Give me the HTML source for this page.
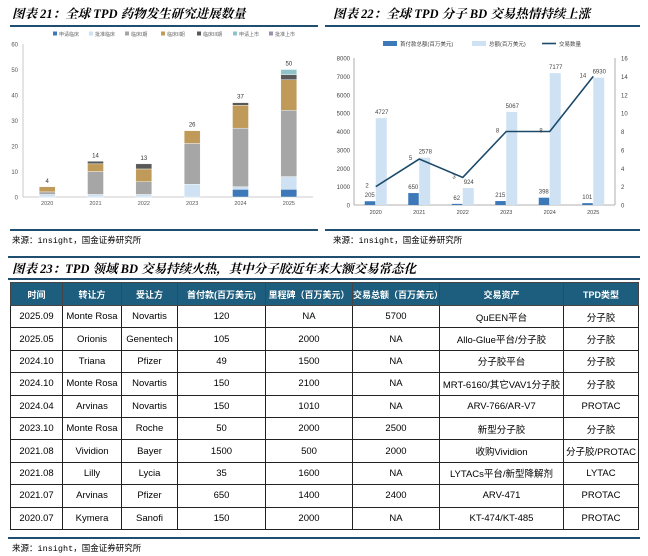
<!DOCTYPE html>
<html><head><meta charset="utf-8">
<style>
body{margin:0;width:648px;height:556px;background:#fff;position:relative;overflow:hidden;font-family:"Liberation Sans","Noto Sans CJK SC",sans-serif;}
.title{position:absolute;font-family:"Liberation Serif","Noto Serif CJK SC",serif;font-weight:bold;font-style:italic;font-size:12.5px;color:#000;white-space:nowrap;}
.hline{position:absolute;height:1.5px;background:#1f4e6e;}
.src{position:absolute;font-size:8.5px;font-family:"Liberation Mono","Noto Sans CJK SC",monospace;color:#000;}
svg text{font-family:"Liberation Sans","Noto Sans CJK SC",sans-serif;}
table{position:absolute;left:10px;top:282px;width:628px;border-collapse:collapse;font-size:9.5px;table-layout:fixed;}
td,th{border:1px solid #222;text-align:center;height:21.4px;padding:0;white-space:nowrap;overflow:hidden;}
th{background:#1d5d7e;color:#fff;font-weight:bold;height:22px;font-size:9px;border-color:#444;}
</style></head><body>
<div class="title" style="left:12px;top:4px;">图表 21：全球 TPD 药物发生研究进展数量</div>
<div class="hline" style="left:10px;top:25px;width:308px;"></div>
<div class="title" style="left:333px;top:4px;">图表 22：全球 TPD 分子 BD 交易热情持续上涨</div>
<div class="hline" style="left:325px;top:25px;width:315px;"></div>

<svg id="c21" width="320" height="225" style="position:absolute;left:0;top:0"></svg>
<svg id="c22" width="323" height="225" style="position:absolute;left:325px;top:0"></svg>

<div class="hline" style="left:10px;top:229px;width:308px;"></div>
<div class="src" style="left:12px;top:234px;">来源：insight，国金证券研究所</div>
<div class="hline" style="left:325px;top:229px;width:315px;"></div>
<div class="src" style="left:333px;top:234px;">来源：insight，国金证券研究所</div>

<div class="hline" style="left:8px;top:256px;width:632px;"></div>
<div class="title" style="left:12px;top:259px;">图表 23：TPD 领域 BD 交易持续火热，其中分子胶近年来大额交易常态化</div>
<div class="hline" style="left:8px;top:278px;width:632px;"></div>

<table>
<colgroup><col style="width:52px"><col style="width:59px"><col style="width:56px"><col style="width:88px"><col style="width:87px"><col style="width:87px"><col style="width:124px"><col style="width:75px"></colgroup>
<tr><th>时间</th><th>转让方</th><th>受让方</th><th>首付款(百万美元)</th><th>里程碑（百万美元）</th><th>交易总额（百万美元）</th><th>交易资产</th><th>TPD类型</th></tr>
<tr><td>2025.09</td><td>Monte Rosa</td><td>Novartis</td><td>120</td><td>NA</td><td>5700</td><td>QuEEN平台</td><td>分子胶</td></tr>
<tr><td>2025.05</td><td>Orionis</td><td>Genentech</td><td>105</td><td>2000</td><td>NA</td><td>Allo-Glue平台/分子胶</td><td>分子胶</td></tr>
<tr><td>2024.10</td><td>Triana</td><td>Pfizer</td><td>49</td><td>1500</td><td>NA</td><td>分子胶平台</td><td>分子胶</td></tr>
<tr><td>2024.10</td><td>Monte Rosa</td><td>Novartis</td><td>150</td><td>2100</td><td>NA</td><td>MRT-6160/其它VAV1分子胶</td><td>分子胶</td></tr>
<tr><td>2024.04</td><td>Arvinas</td><td>Novartis</td><td>150</td><td>1010</td><td>NA</td><td>ARV-766/AR-V7</td><td>PROTAC</td></tr>
<tr><td>2023.10</td><td>Monte Rosa</td><td>Roche</td><td>50</td><td>2000</td><td>2500</td><td>新型分子胶</td><td>分子胶</td></tr>
<tr><td>2021.08</td><td>Vividion</td><td>Bayer</td><td>1500</td><td>500</td><td>2000</td><td>收购Vividion</td><td>分子胶/PROTAC</td></tr>
<tr><td>2021.08</td><td>Lilly</td><td>Lycia</td><td>35</td><td>1600</td><td>NA</td><td>LYTACs平台/新型降解剂</td><td>LYTAC</td></tr>
<tr><td>2021.07</td><td>Arvinas</td><td>Pfizer</td><td>650</td><td>1400</td><td>2400</td><td>ARV-471</td><td>PROTAC</td></tr>
<tr><td>2020.07</td><td>Kymera</td><td>Sanofi</td><td>150</td><td>2000</td><td>NA</td><td>KT-474/KT-485</td><td>PROTAC</td></tr>
</table>
<div class="hline" style="left:8px;top:537px;width:632px;"></div>
<div class="src" style="left:12px;top:542px;">来源：insight，国金证券研究所</div>

<script>
// ---- Chart 21 data ----
const years21 = ['2020','2021','2022','2023','2024','2025'];
const stageNames = ['申请临床','批准临床','临床I期','临床II期','临床III期','申请上市','批准上市'];
const sApply = [0,0,0,0,3,3];
const sApproved = [1,1,1,5,1,5];
const sP1 = [1,9,5,16,23,26];
const sP2 = [2,3,5,5,9,12];
const sP3 = [0,1,2,0,1,2];
const sNDA = [0,0,0,0,0,2];
const sMkt = [0,0,0,0,0,0];
const yTicks21 = [0,10,20,30,40,50,60];
// ---- Chart 22 data ----
const years22 = ['2020','2021','2022','2023','2024','2025'];
const upfront = [205,650,62,215,398,101];
const totalAmt = [4727,2578,924,5067,7177,6930];
const dealCount = [2,5,3,8,8,14];
const yTicksL = [0,1000,2000,3000,4000,5000,6000,7000,8000];
const yTicksR = [0,2,4,6,8,10,12,14,16];

const NS='http://www.w3.org/2000/svg';
function mk(p,tag,at,txt){const e=document.createElementNS(NS,tag);for(const k in at)e.setAttribute(k,at[k]);if(txt!==undefined)e.textContent=txt;p.appendChild(e);return e;}

// Chart 21
(function(){
 const svg=document.getElementById('c21');
 const x0=23,x1=313,y0=197,yTop=44,ymax=60;
 const ys=v=>y0-(v/ymax)*(y0-yTop);
 const step=(x1-x0)/years21.length;
 const xc=i=>x0+step*(i+0.5);
 const series=[sApply,sApproved,sP1,sP2,sP3,sNDA,sMkt];
 const cols=['#3d78b8','#cfe2f3','#a6a6a6','#c09a58','#595959','#8fc3c8','#9e8fb0'];
 yTicks21.forEach(t=>{const e=mk(svg,'text',{x:18,y:ys(t)+2.5,'font-size':6,fill:'#555','text-anchor':'end'},t);
  });
 mk(svg,'line',{x1:x0,y1:y0,x2:x1,y2:y0,stroke:'#bbb','stroke-width':0.8});
 mk(svg,'line',{x1:x0,y1:yTop,x2:x0,y2:y0,stroke:'#bbb','stroke-width':0.8});
 years21.forEach((yr,i)=>{
  let acc=0;
  series.forEach((s,k)=>{const v=s[i];if(v>0){const r=mk(svg,'rect',{x:xc(i)-8,y:ys(acc+v),width:16,height:ys(acc)-ys(acc+v),fill:cols[k],stroke:'#fff','stroke-width':0.4});
   }acc+=v;});
  const lt=mk(svg,'text',{x:xc(i),y:ys(acc)-4,'font-size':6,fill:'#333','text-anchor':'middle'},acc);
  
  const xl=mk(svg,'text',{x:xc(i),y:y0+8,'font-size':5.5,fill:'#555','text-anchor':'middle'},yr);
  
 });
 let lx=53;
 stageNames.forEach((n,k)=>{const r=mk(svg,'rect',{x:lx,y:31.5,width:4,height:4,fill:cols[k]});
  
  const t=mk(svg,'text',{x:lx+6,y:36,'font-size':5,fill:'#666'},n);
  lx+=36;});
})();

// Chart 22
(function(){
 const svg=document.getElementById('c22');
 const x0=29,x1=290,y0=205,yTop=58;
 const ysL=v=>y0-(v/8000)*(y0-yTop);
 const ysR=v=>y0-(v/16)*(y0-yTop);
 const step=(x1-x0)/years22.length;
 const xc=i=>x0+step*(i+0.5);
 mk(svg,'line',{x1:x0,y1:y0,x2:x1,y2:y0,stroke:'#999','stroke-width':0.8});
 mk(svg,'line',{x1:x0,y1:yTop,x2:x0,y2:y0,stroke:'#999','stroke-width':0.8});
 mk(svg,'line',{x1:x1,y1:yTop,x2:x1,y2:y0,stroke:'#999','stroke-width':0.8});
 yTicksL.forEach(t=>{const e=mk(svg,'text',{x:25,y:ysL(t)+2.5,'font-size':6,fill:'#444','text-anchor':'end'},t);
  });
 yTicksR.forEach(t=>{const e=mk(svg,'text',{x:296,y:ysR(t)+2.5,'font-size':6,fill:'#444'},t);
  });
 years22.forEach((yr,i)=>{
  const c=xc(i);
  const b1=mk(svg,'rect',{x:c-11,y:ysL(upfront[i]),width:10.5,height:y0-ysL(upfront[i]),fill:'#3d78b8'});
  
  const b2=mk(svg,'rect',{x:c,y:ysL(totalAmt[i]),width:11,height:y0-ysL(totalAmt[i]),fill:'#cfe2f3'});
  
  const t1=mk(svg,'text',{x:c-6,y:ysL(upfront[i])-4,'font-size':6,fill:'#444','text-anchor':'middle'},upfront[i]);
  
  const t2=mk(svg,'text',{x:c+6,y:ysL(totalAmt[i])-4,'font-size':6,fill:'#444','text-anchor':'middle'},totalAmt[i]);
  
  const xl=mk(svg,'text',{x:c,y:y0+9,'font-size':5.5,fill:'#444','text-anchor':'middle'},yr);
  
 });
 const pts=dealCount.map((v,i)=>xc(i)+','+ysR(v)).join(' ');
 const pl=mk(svg,'polyline',{points:pts,fill:'none',stroke:'#1b4a6b','stroke-width':1.6});
 
 dealCount.forEach((v,i)=>{const t=mk(svg,'text',{x:xc(i)-7,y:ysR(v)+1,'font-size':6,fill:'#444','text-anchor':'end'},v);
  });
 const leg=[['rect','#3d78b8','首付款总额(百万美元)',58],['rect','#cfe2f3','总额(百万美元)',147],['line','#1b4a6b','交易数量',217]];
 leg.forEach(l=>{
  if(l[0]==='rect'){const r=mk(svg,'rect',{x:l[3],y:41,width:14,height:5,fill:l[1]});}
  else{const r=mk(svg,'line',{x1:l[3],y1:43.5,x2:l[3]+14,y2:43.5,stroke:l[1],'stroke-width':1.6});}
  const t=mk(svg,'text',{x:l[3]+17,y:46,'font-size':5.5,fill:'#444'},l[2]);
  });
})();
</script>
</body></html>
